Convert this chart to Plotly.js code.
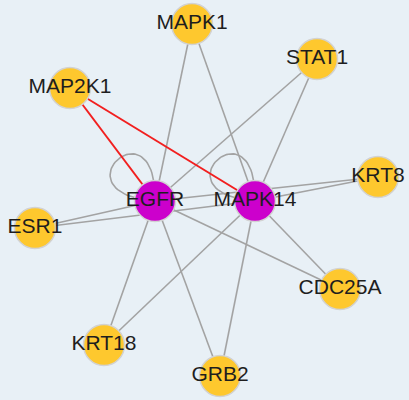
<!DOCTYPE html>
<html>
<head>
<meta charset="utf-8">
<script src="https://cdn.plot.ly/plotly-3.0.1.min.js"></script>
<style>html,body{margin:0;padding:0;background:#e8f0f6;}#chart{width:409px;height:400px;}</style>
</head>
<body>
<div id="chart"></div>
<script>
// Node names and layout positions (pixel-like coordinates, y downward)
const nodeNames = ["MAPK1", "STAT1", "MAP2K1", "EGFR", "MAPK14", "KRT8", "ESR1", "CDC25A", "KRT18", "GRB2"];
const nodeX = [192, 317, 70, 155, 255, 378, 35, 340, 104, 220];
const nodeY = [24, 59, 88, 201, 201, 177, 228, 289, 345, 376];
const nodeGroup = ["target", "target", "target", "hub", "hub", "target", "target", "target", "target", "target"];

// Edges: [source, target]
const grayEdges = [
  ["MAPK1", "EGFR"], ["MAPK1", "MAPK14"],
  ["STAT1", "EGFR"], ["STAT1", "MAPK14"],
  ["KRT8", "EGFR"], ["KRT8", "MAPK14"],
  ["ESR1", "EGFR"], ["ESR1", "MAPK14"],
  ["CDC25A", "EGFR"], ["CDC25A", "MAPK14"],
  ["KRT18", "EGFR"], ["KRT18", "MAPK14"],
  ["GRB2", "EGFR"], ["GRB2", "MAPK14"]
];
const redEdges = [["MAP2K1", "EGFR"], ["MAP2K1", "MAPK14"]];
const selfLoops = ["EGFR", "MAPK14"];

const idx = n => nodeNames.indexOf(n);
function edgeXY(edges) {
  const xs = [], ys = [];
  edges.forEach(([a, b]) => {
    xs.push(nodeX[idx(a)], nodeX[idx(b)], null);
    ys.push(nodeY[idx(a)], nodeY[idx(b)], null);
  });
  return {xs, ys};
}
// self loop as cubic bezier: legs going up and left
function loopXY(names) {
  const xs = [], ys = [];
  const d = 102;
  names.forEach(n => {
    const cx = nodeX[idx(n)], cy = nodeY[idx(n)];
    const P = [[cx, cy], [cx + 2, cy - d], [cx - d, cy - 8], [cx, cy]];
    for (let i = 0; i <= 60; i++) {
      const t = i / 60, u = 1 - t;
      const b = [u*u*u, 3*u*u*t, 3*u*t*t, t*t*t];
      xs.push(b[0]*P[0][0] + b[1]*P[1][0] + b[2]*P[2][0] + b[3]*P[3][0]);
      ys.push(b[0]*P[0][1] + b[1]*P[1][1] + b[2]*P[2][1] + b[3]*P[3][1]);
    }
    xs.push(null); ys.push(null);
  });
  return {xs, ys};
}

const g = edgeXY(grayEdges), r = edgeXY(redEdges), l = loopXY(selfLoops);
const colorMap = {target: "#fec82e", hub: "#cc00cc"};

const traces = [
  {x: g.xs, y: g.ys, mode: "lines", type: "scatter", hoverinfo: "skip",
   line: {color: "#a3a3a3", width: 1.6}},
  {x: l.xs, y: l.ys, mode: "lines", type: "scatter", hoverinfo: "skip",
   line: {color: "#a3a3a3", width: 1.6}},
  {x: r.xs, y: r.ys, mode: "lines", type: "scatter", hoverinfo: "skip",
   line: {color: "#f21f1f", width: 2}},
  {x: nodeX, y: nodeY, text: nodeNames, mode: "markers+text", type: "scatter",
   textposition: "middle center",
   textfont: {family: "Liberation Sans, Arial, sans-serif", size: 21, color: "#1e1e1e"},
   marker: {size: 41, color: nodeGroup.map(k => colorMap[k]),
            line: {color: "#d2d2d2", width: 1.5}}}
];

const layout = {
  width: 409, height: 400,
  margin: {l: 0, r: 0, t: 0, b: 0},
  paper_bgcolor: "#e8f0f6", plot_bgcolor: "#e8f0f6",
  showlegend: false,
  xaxis: {range: [0, 409], visible: false, fixedrange: true},
  yaxis: {range: [400, 0], visible: false, fixedrange: true}
};
Plotly.newPlot("chart", traces, layout, {staticPlot: true, displayModeBar: false});
</script>
</body>
</html>
